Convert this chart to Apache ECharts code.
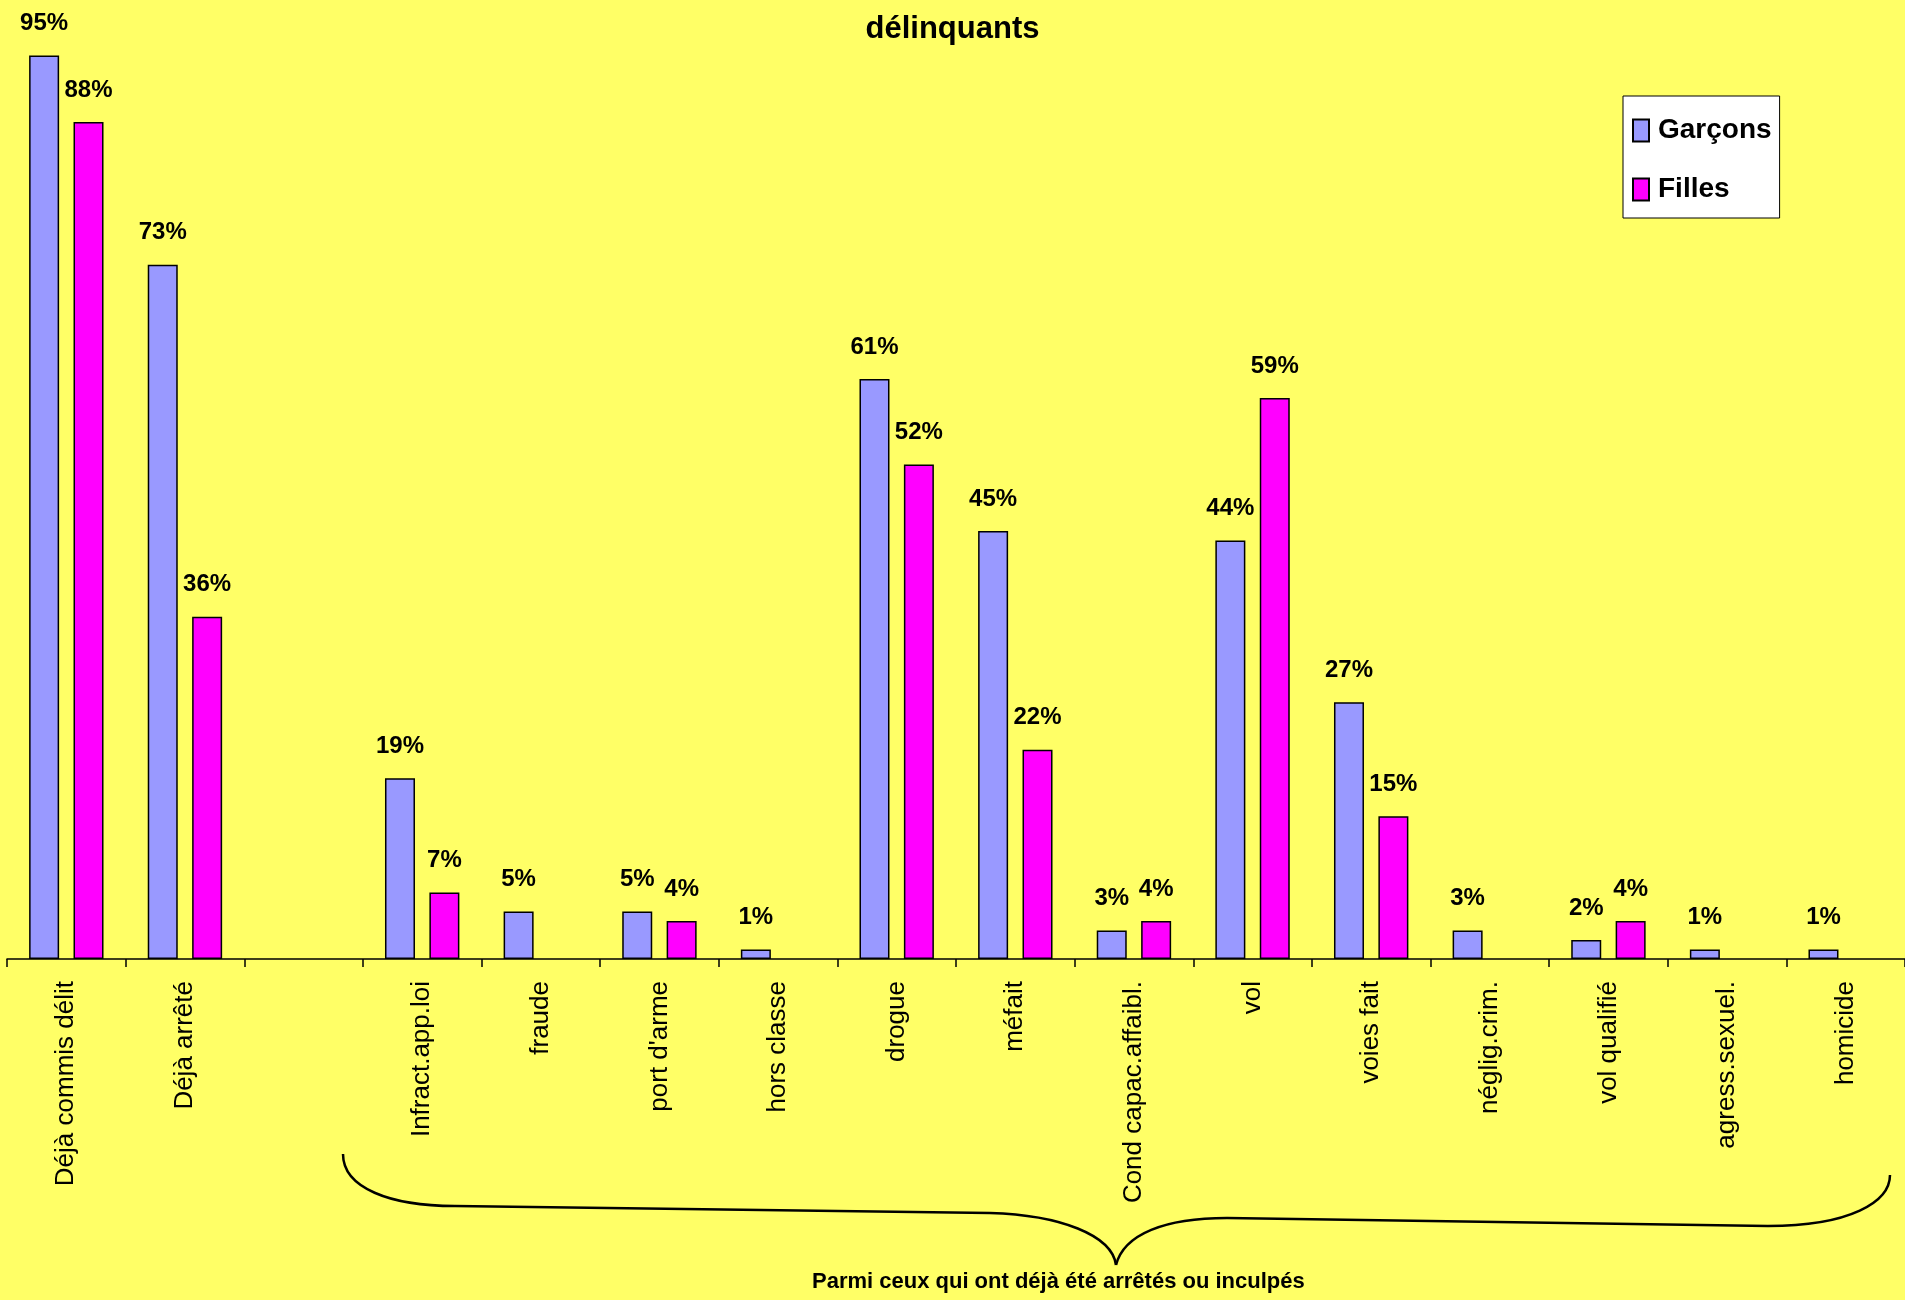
<!DOCTYPE html>
<html>
<head>
<meta charset="utf-8">
<title>délinquants</title>
<script src="https://cdn.jsdelivr.net/npm/echarts@6/dist/echarts.min.js"></script>
<style>
  html, body { margin: 0; padding: 0; background: #ffff66; }
  #delinquants { width: 1905px; height: 1300px; }
</style>
</head>
<body>
<!-- délinquants : garçons / filles -->
<div id="delinquants"></div>
<script>
// catégories de l'axe x (la 3e est vide : séparation)
const categories = [
  'Déjà commis délit', 'Déjà arrêté', '', 'Infract.app.loi', 'fraude', "port d'arme",
  'hors classe', 'drogue', 'méfait', 'Cond capac.affaibl.', 'vol', 'voies fait',
  'néglig.crim.', 'vol qualifié', 'agress.sexuel.', 'homicide'
];
// pourcentages
const garcons = [95, 73, null, 19, 5, 5, 1, 61, 45, 3, 44, 27, 3, 2, 1, 1];
const filles = [88, 36, null, 7, null, 4, null, 52, 22, 4, 59, 15, null, 4, null, null];
const seriesNames = ['Garçons', 'Filles'];

const narrow = "'Liberation Sans Narrow', 'Arial Narrow', 'Liberation Sans', sans-serif";
const plain = "'Liberation Sans', Arial, sans-serif";

// étiquette au-dessus des barres
const barLabel = {
  show: true,
  position: 'top',
  distance: 20,
  color: '#000',
  fontFamily: narrow,
  fontWeight: 'bold',
  fontSize: 24,
  formatter: function (p) { return p.value + '%'; }
};

const option = {
  backgroundColor: '#ffff66',
  animation: false,
  title: {
    text: 'délinquants',
    left: 'center',
    top: 9,
    textStyle: { fontFamily: narrow, fontWeight: 'bold', fontSize: 31, color: '#000' }
  },
  legend: {
    orient: 'vertical',
    left: 1623,
    top: 96,
    padding: [18, 8, 12, 9],
    itemGap: 26,
    itemWidth: 16,
    itemHeight: 22,
    icon: 'rect',
    backgroundColor: '#fff',
    borderColor: '#000',
    borderWidth: 1,
    textStyle: { fontFamily: narrow, fontWeight: 'bold', fontSize: 28, lineHeight: 33, color: '#000', padding: [0, 0, 0, 4] },
    data: seriesNames
  },
  grid: {
    left: 7,
    right: 0,
    top: 8,
    bottom: 341,
    containLabel: false
  },
  xAxis: {
    type: 'category',
    data: categories,
    axisLine: { lineStyle: { color: '#000', width: 1.5 } },
    axisTick: { show: true, length: 8, lineStyle: { color: '#000', width: 1.5 } },
    axisLabel: {
      interval: 0,
      rotate: 90,
      margin: 22,
      padding: [16, 0, 0, 0],
      color: '#000',
      fontFamily: plain,
      fontSize: 26
    }
  },
  yAxis: {
    type: 'value',
    min: 0,
    max: 100,
    show: false,
    splitLine: { show: false }
  },
  series: [
    {
      name: seriesNames[0],
      type: 'bar',
      data: garcons,
      barWidth: 30,
      barGap: '48%',
      itemStyle: { color: '#9999ff', borderColor: '#000', borderWidth: 1.5 },
      label: barLabel
    },
    {
      name: seriesNames[1],
      type: 'bar',
      data: filles,
      barWidth: 30,
      itemStyle: { color: '#ff00ff', borderColor: '#000', borderWidth: 1.5 },
      label: barLabel
    }
  ],
  // accolade + texte sous l'axe
  graphic: [
    { type: 'bezierCurve', shape: { x1: 343, y1: 1154, cpx1: 343, cpy1: 1188, cpx2: 390, cpy2: 1206, x2: 455, y2: 1206 }, style: { stroke: '#000', lineWidth: 2.5, fill: null } },
    { type: 'line', shape: { x1: 455, y1: 1206, x2: 990, y2: 1213 }, style: { stroke: '#000', lineWidth: 2.5 } },
    { type: 'bezierCurve', shape: { x1: 990, y1: 1213, cpx1: 1060, cpy1: 1215, cpx2: 1112, cpy2: 1235, x2: 1116, y2: 1265 }, style: { stroke: '#000', lineWidth: 2.5, fill: null } },
    { type: 'bezierCurve', shape: { x1: 1116, y1: 1265, cpx1: 1124, cpy1: 1234, cpx2: 1165, cpy2: 1218, x2: 1227, y2: 1218 }, style: { stroke: '#000', lineWidth: 2.5, fill: null } },
    { type: 'line', shape: { x1: 1227, y1: 1218, x2: 1768, y2: 1226 }, style: { stroke: '#000', lineWidth: 2.5 } },
    { type: 'bezierCurve', shape: { x1: 1768, y1: 1226, cpx1: 1850, cpy1: 1226, cpx2: 1890, cpy2: 1202, x2: 1890, y2: 1175 }, style: { stroke: '#000', lineWidth: 2.5, fill: null } },
    {
      type: 'text',
      left: 812,
      top: 1271,
      style: {
        text: 'Parmi ceux qui ont déjà été arrêtés ou inculpés',
        font: "bold 22px " + narrow,
        fill: '#000'
      }
    }
  ]
};

const chart = echarts.init(document.getElementById('delinquants'));
chart.setOption(option, true);
window.addEventListener('resize', function () { chart.resize(); });
</script>
</body>
</html>
